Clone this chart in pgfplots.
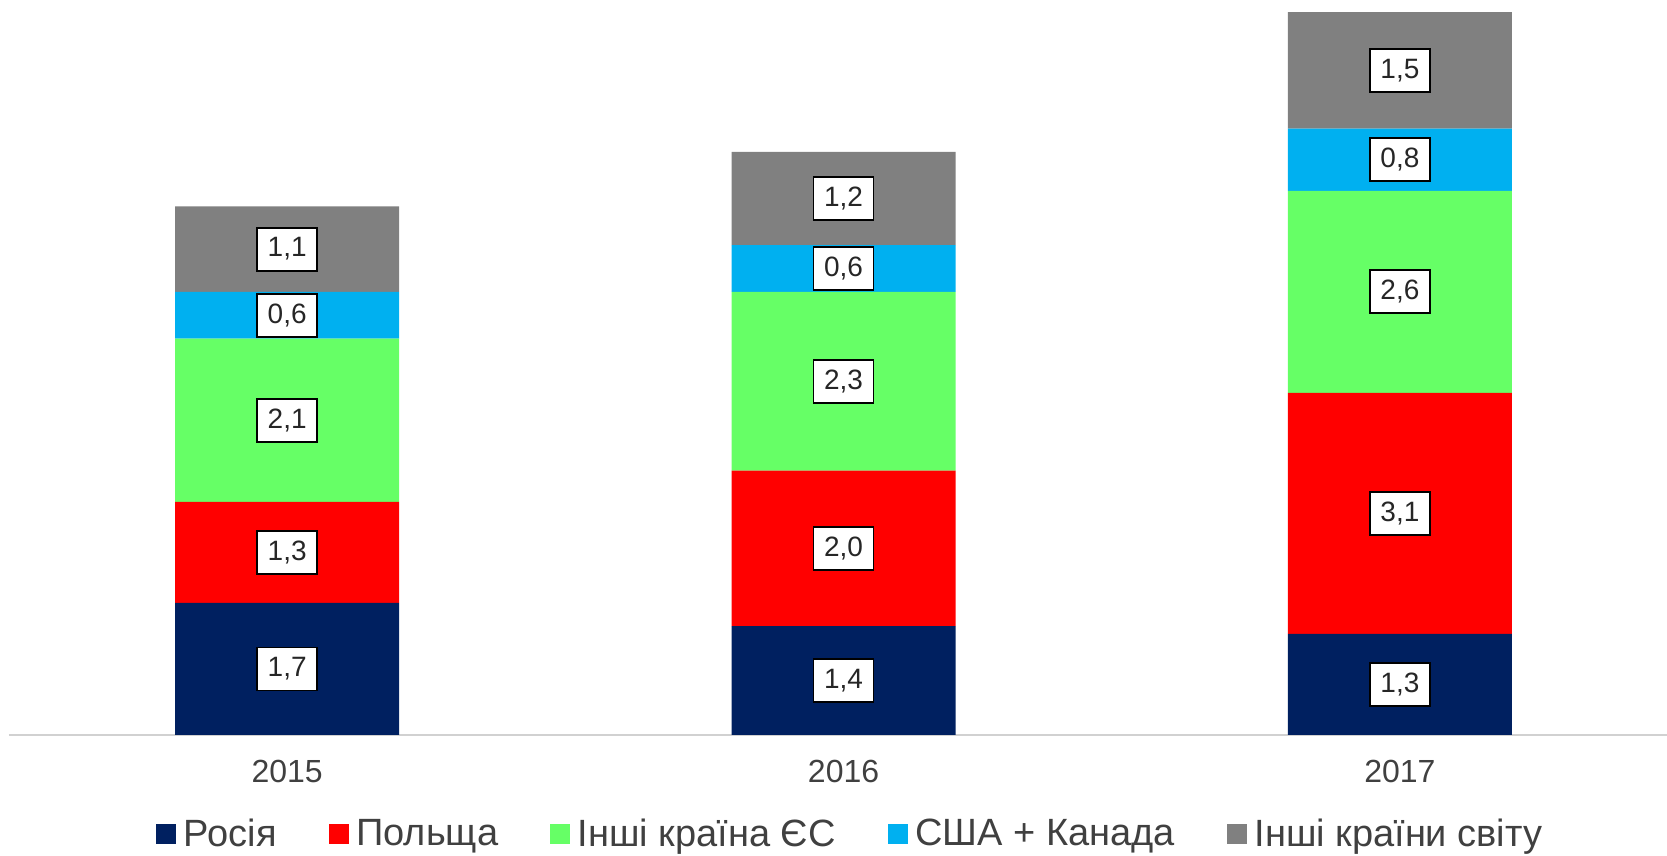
\documentclass[border=0pt]{standalone}
\usepackage{pgfplots}
\pgfplotsset{compat=1.18}
\usepackage{fontspec}
\setmainfont{Liberation Sans}
\definecolor{cRus}{HTML}{002060}
\definecolor{cPol}{HTML}{FF0000}
\definecolor{cEU}{HTML}{66FF66}
\definecolor{cUSA}{HTML}{00B0F0}
\definecolor{cOth}{HTML}{808080}
\definecolor{txt}{HTML}{404040}
\begin{document}
\begin{tikzpicture}
\begin{axis}[
  scale only axis,
  width=829pt, height=361.5pt,
  xmin=-0.5, xmax=2.48, ymin=0, ymax=9.3,
  ybar stacked, bar width=112pt,
  axis x line*=bottom, axis y line=none,
  x axis line style={draw=black!18, line width=0.8pt, -},
  xtick={0,1,2}, xticklabels={2015,2016,2017},
  major tick length=0pt,
  xticklabel style={font=\fontsize{16}{18}\selectfont, text=txt, anchor=north, inner sep=0pt, yshift=-12.5pt},
  ytick=\empty,
  clip=false,
  legend columns=5,
  legend style={at={(0.508,-0.137)}, anchor=center, draw=none, fill=none,
    font=\fontsize{19}{22}\selectfont, text=txt, inner sep=0pt,
    /tikz/every odd column/.style={column sep=1.8pt},
    /tikz/every even column/.style={column sep=24pt}},
  legend image code/.code={\fill[#1] (0pt,-5pt) rectangle (10pt,5pt);},
]
\addplot[fill=cRus, draw=none] coordinates {(0,1.7) (1,1.4) (2,1.3)};
\addplot[fill=cPol, draw=none] coordinates {(0,1.3) (1,2.0) (2,3.1)};
\addplot[fill=cEU, draw=none] coordinates {(0,2.1) (1,2.3) (2,2.6)};
\addplot[fill=cUSA, draw=none] coordinates {(0,0.6) (1,0.6) (2,0.8)};
\addplot[fill=cOth, draw=none] coordinates {(0,1.1) (1,1.2) (2,1.5)};
\legend{Росія, Польща, Інші країна ЄС, США + Канада, Інші країни світу}
\end{axis}
\begin{axis}[
  scale only axis,
  width=829pt, height=361.5pt,
  xmin=-0.5, xmax=2.48, ymin=0, ymax=9.3,
  hide axis, clip=false,
  nodes near coords,
  point meta=explicit symbolic,
  every node near coord/.style={anchor=center, fill=white, draw=black, line width=0.9pt,
    minimum width=30pt, minimum height=21.5pt, inner sep=0pt,
    font=\fontsize{14}{16}\selectfont, text=black!85},
]
\addplot[draw=none, mark=none] coordinates {
  (0,0.85)[1,7] (0,2.35)[1,3] (0,4.05)[2,1] (0,5.4)[0,6] (0,6.25)[1,1]
};
\addplot[draw=none, mark=none] coordinates {
  (1,0.7)[1,4] (1,2.4)[2,0] (1,4.55)[2,3] (1,6.0)[0,6] (1,6.9)[1,2]
};
\addplot[draw=none, mark=none] coordinates {
  (2,0.65)[1,3] (2,2.85)[3,1] (2,5.7)[2,6] (2,7.4)[0,8] (2,8.55)[1,5]
};
\end{axis}
\pgfresetboundingbox
\path[use as bounding box] (-4.5pt,-60.5pt) rectangle (829pt,367.5pt);
\end{tikzpicture}
\end{document}
